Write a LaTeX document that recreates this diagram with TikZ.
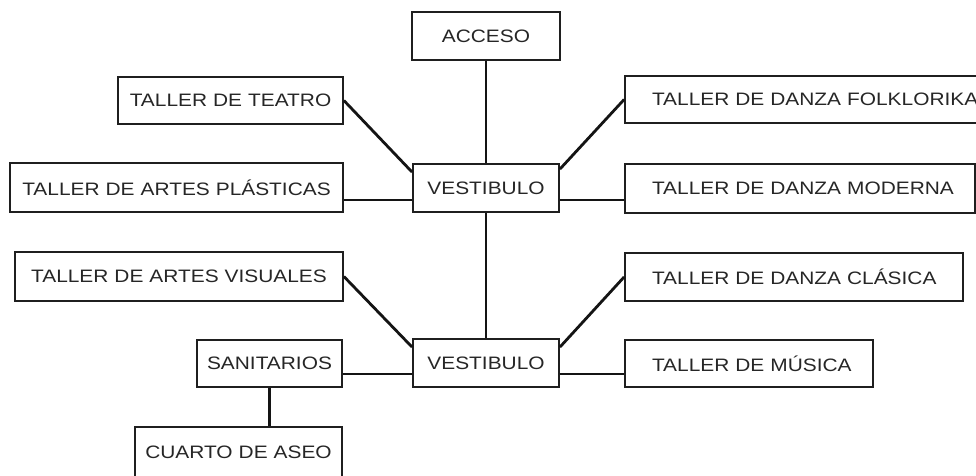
\documentclass[tikz,border=0pt]{standalone}
\usepackage{fontspec}
\setmainfont{Liberation Sans}[FakeStretch=1.16]
\begin{document}
\begin{tikzpicture}[x=1pt,y=1pt,
  box/.style={draw=black!88, line width=1.8pt, fill=white, text=black!85,
    font=\fontsize{18}{20}\selectfont, inner sep=0pt, minimum height=#1, anchor=center},
  cbox/.style 2 args={box=#2, minimum width=#1, text width=#1, align=center},
  rbox/.style 2 args={box=#2, minimum width=#1, text width=#1, align=left,
    execute at begin node={\hspace*{27pt}}},
  link/.style={draw=black!92, line width=2.8pt}]
\useasboundingbox (0,0) rectangle (976,-475);
\clip (0,0) rectangle (976,-475);
% boxes
\node[cbox={148pt}{48pt}] (acc) at (486,-36) {ACCESO};
\node[cbox={225pt}{47pt}] (tea) at (230.5,-100.5) {TALLER DE TEATRO};
\node[cbox={333pt}{49pt}] (pla) at (176.5,-187.5) {TALLER DE ARTES PLÁSTICAS};
\node[cbox={146pt}{48pt}] (v1) at (486,-188) {VESTIBULO};
\node[rbox={375pt}{47pt}] (fol) at (812.5,-99.5) {TALLER DE DANZA FOLKLORIKA};
\node[rbox={350pt}{49pt}] (mod) at (800,-188.5) {TALLER DE DANZA MODERNA};
\node[cbox={328pt}{49pt}] (vis) at (179,-276.5) {TALLER DE ARTES VISUALES};
\node[rbox={338pt}{48pt}] (cla) at (794,-277) {TALLER DE DANZA CLÁSICA};
\node[cbox={145pt}{47pt}] (san) at (269.5,-363.5) {SANITARIOS};
\node[cbox={146pt}{48pt}] (v2) at (486,-363) {VESTIBULO};
\node[rbox={248pt}{47pt}] (mus) at (749,-363.5) {TALLER DE MÚSICA};
\node[cbox={207pt}{50pt}] (cua) at (238.5,-452) {CUARTO DE ASEO};
% connectors
\draw[link] (acc.south) -- (v1.north);
\draw[link] (v1.south) -- (v2.north);
\draw[link] (tea.east) -- ([yshift=-9pt]v1.north west);
\draw[link] ([yshift=-6pt]v1.north east) -- (fol.west);
\draw[link] ([yshift=-12pt]v1.west) -- ([yshift=-12pt]v1.west -| pla.east);
\draw[link] ([yshift=-12pt]v1.east) -- ([yshift=-12pt]v1.east -| mod.west);
\draw[link] (vis.east) -- ([yshift=-9pt]v2.north west);
\draw[link] ([yshift=-9pt]v2.north east) -- (cla.west);
\draw[link] ([yshift=-11pt]v2.west) -- ([yshift=-11pt]v2.west -| san.east);
\draw[link] ([yshift=-11pt]v2.east) -- ([yshift=-11pt]v2.east -| mus.west);
\draw[link] (san.south) -- (san.south |- cua.north);
\end{tikzpicture}
\end{document}
